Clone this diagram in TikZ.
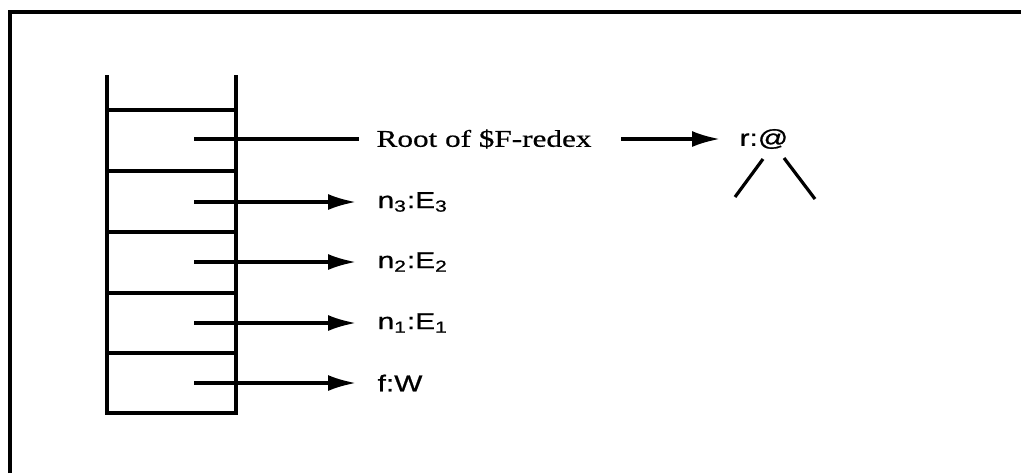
\documentclass[tikz,border=0pt]{standalone}
\usepackage{fontspec}
\setmainfont{Liberation Serif}[FakeStretch=1.3,FakeBold=0.6]
\newfontfamily\labfont{Liberation Sans}[FakeStretch=1.3,FakeBold=0.8]
\usepackage{tikz}
\usetikzlibrary{arrows.meta}

\begin{document}
\begin{tikzpicture}[x=0.5pt,y=-0.5pt,line width=1.6pt,
    ptr/.style={-{Latex[length=14pt,width=8pt]},shorten >=10pt},
    lab/.style={anchor=west,inner sep=0pt,font=\labfont\fontsize{11.5}{14}\selectfont}]
\useasboundingbox (0,0) rectangle (1021,473);
% frame
\draw[line width=2pt] (10,473) -- (10,12) -- (1021,12);
% stack
\draw (107,75) -- (107,413) -- (236,413) -- (236,75);
\foreach \y in {110,171,232,293,353} {
    \draw (107,\y) -- (236,\y);
}
\foreach \i/\y in {1/383,2/323,3/262,4/202,5/139} {
    \coordinate (c\i) at (194,\y);
}
% entries
\node[lab] (fw) at (376,383) {f:W};
\node[lab] (n1) at (376,323) {n\textsubscript{1}:E\textsubscript{1}};
\node[lab] (n2) at (376,262) {n\textsubscript{2}:E\textsubscript{2}};
\node[lab] (n3) at (376,202) {n\textsubscript{3}:E\textsubscript{3}};
\node[anchor=west,inner sep=0pt,font=\fontsize{12}{14}\selectfont] (root) at (375,139) {Root of \$F-redex};
\draw[ptr] (c1) -- (fw.west);
\draw[ptr] (c2) -- (n1.west);
\draw[ptr] (c3) -- (n2.west);
\draw[ptr] (c4) -- (n3.west);
\draw[shorten >=8pt] (c5) -- (root.west);
% redex
\node[lab] (r) at (738,139) {r:@};
\draw[ptr,shorten <=14pt,shorten >=9pt] (root.east) -- (r.west);
\draw (763,159) -- (735,197);
\draw (784,158) -- (815,199);
\end{tikzpicture}
\end{document}
